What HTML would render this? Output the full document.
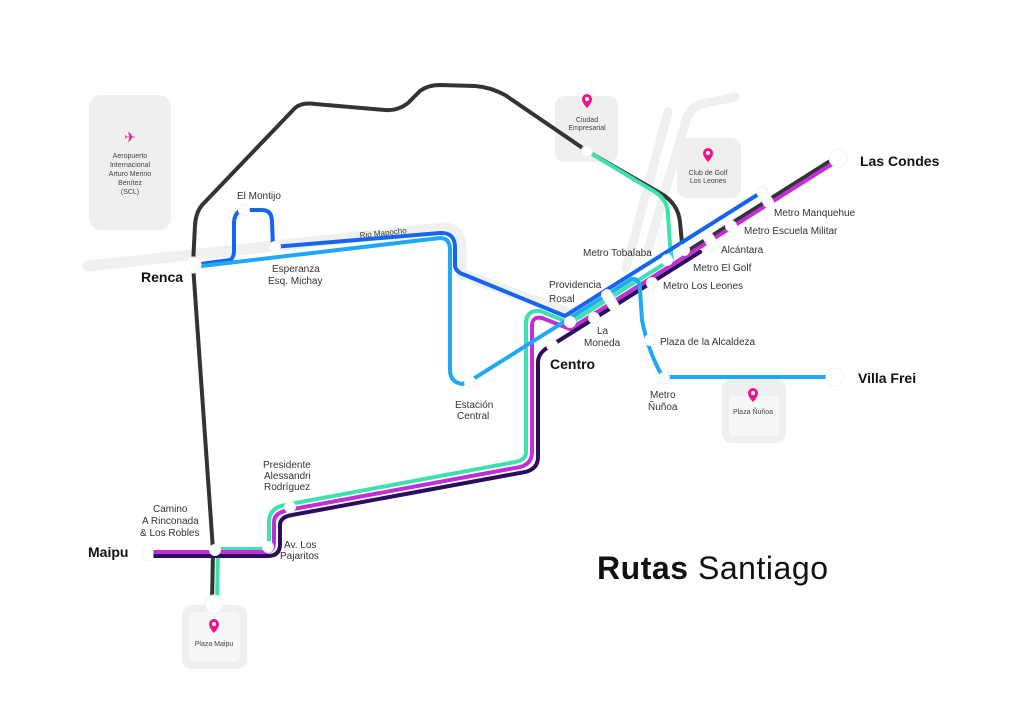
<!DOCTYPE html>
<html><head><meta charset="utf-8"><style>
html,body{margin:0;padding:0;background:#fff;}
svg{display:block;font-family:"Liberation Sans",sans-serif;}
.s{font-size:10px;fill:#333;}
.b{font-size:14px;font-weight:bold;fill:#111;}
.t{font-size:7px;fill:#444;}
</style></head><body>
<svg width="1024" height="722" viewBox="0 0 1024 722" xmlns="http://www.w3.org/2000/svg">
<g fill="none" stroke="#f0f0f0" stroke-linecap="round" stroke-linejoin="round">
<path d="M88,266 L440,228 Q460,226 461,248 L461,274 L565,312" stroke-width="11"/>
<path d="M735,97 L702,104 Q690,108 686,120 L648,250" stroke-width="9"/>
<path d="M668,112 L626,268" stroke-width="9"/>
</g>
<rect x="89" y="95" width="82" height="135" rx="12" fill="#efefef"/>
<rect x="555" y="96" width="63" height="66" rx="10" fill="#efefef"/>
<rect x="677" y="138" width="64" height="60" rx="10" fill="#efefef"/>
<rect x="722" y="379" width="64" height="64" rx="10" fill="#efefef"/>
<rect x="182" y="605" width="65" height="64" rx="10" fill="#efefef"/>
<rect x="189" y="612" width="51" height="50" rx="6" fill="#f7f7f7"/>
<rect x="729" y="396" width="50" height="40" rx="4" fill="#f7f7f7"/>
<g fill="none" stroke-width="4" stroke-linecap="round" stroke-linejoin="round">
<path d="M212,604 L213,550 L193,265 L195,225 Q196,210 205,202 L295,108 Q302,102 315,104 L385,110 Q398,111 408,103 L420,91 Q428,85 440,85 L475,86 Q490,87 505,95 L587,151 L660,193 Q678,203 680,222 L683,254 L838,156" stroke="#333"/>
<path d="M587,151 L655,192 Q668,200 668,215 L670,245 L672,259 L570,323 L540,311 Q527,310 526,322 L526,452 Q526,460 515,462 L285,505 Q270,508 269,520 L269,540 Q268,549 258,549 L218,549 L217,604" stroke="#3fe0b0"/>
<path d="M150,552 L265,552 Q274,552 274,542 L274,522 Q274,513 288,510 L520,467 Q532,464 532,452 L532,326 Q532,316 542,318 L570,329 L832,164" stroke="#c22ed8"/>
<path d="M150,556 L268,556 Q280,556 280,544 L280,525 Q280,517 292,515 L525,472 Q538,469 538,457 L538,362 Q538,352 552,345 L700,252" stroke="#2a0e5c"/>
<path d="M193,265 L230,260 Q234,258 234,250 L234,222 Q235,210 245,210 L262,210 Q272,210 272,222 L273,247 L440,233 Q455,232 455,248 L455,265 Q455,272 465,275 L565,316 L765,190" stroke="#1565f0"/>
<path d="M193,267 L440,238 Q450,238 450,250 L450,370 Q450,382 462,384 L470,381 L632,279 Q640,278 640,290 L642,320 Q648,350 660,372 L665,377 L835,377" stroke="#1ea8f5"/>
</g>
<g fill="#fff" stroke="#f2f2f2" stroke-width="1">
<circle cx="193" cy="265" r="8"/>
<circle cx="244" cy="210" r="5.5"/>
<circle cx="275" cy="247" r="5.5"/>
<circle cx="587" cy="151" r="5.5"/>
<circle cx="838" cy="158" r="9"/>
<circle cx="835" cy="377" r="9"/>
<circle cx="214" cy="604" r="9"/>
<circle cx="215" cy="550" r="5.5"/>
<circle cx="268" cy="547" r="5.5"/>
<circle cx="290" cy="507" r="5.5"/>
<circle cx="470" cy="382" r="5.5"/>
<circle cx="570" cy="322" r="5.5"/>
<circle cx="594" cy="318" r="5.5"/>
<circle cx="552" cy="345" r="5.5"/>
<circle cx="652" cy="283" r="5.5"/>
<circle cx="667" cy="260" r="5.5"/>
<circle cx="684" cy="250" r="5.5"/>
<circle cx="731" cy="226" r="5.5"/>
<circle cx="650" cy="340" r="5.5"/>
<circle cx="664" cy="378" r="5.5"/>
<rect x="143" y="545" width="10" height="16" rx="4"/>
<rect x="-5" y="-11" width="10" height="22" rx="4" transform="translate(610,300) rotate(-32)"/>
<rect x="-5" y="-10" width="10" height="20" rx="4" transform="translate(710,240) rotate(-32)"/>
<rect x="-5" y="-11" width="10" height="22" rx="4" transform="translate(765,197) rotate(-32)"/>
</g>
<g fill="#f0148c">
<path d="M587,94 a5,5 0 0 1 5,5 c0,4 -5,9 -5,9 c0,0 -5,-5 -5,-9 a5,5 0 0 1 5,-5z"/>
<path d="M708,148 a5,5 0 0 1 5,5 c0,4 -5,9 -5,9 c0,0 -5,-5 -5,-9 a5,5 0 0 1 5,-5z"/>
<path d="M753,388 a5,5 0 0 1 5,5 c0,4 -5,9 -5,9 c0,0 -5,-5 -5,-9 a5,5 0 0 1 5,-5z"/>
<path d="M214,619 a5,5 0 0 1 5,5 c0,4 -5,9 -5,9 c0,0 -5,-5 -5,-9 a5,5 0 0 1 5,-5z"/>
</g>
<g fill="#fff"><circle cx="587" cy="99" r="2"/><circle cx="708" cy="153" r="2"/><circle cx="753" cy="393" r="2"/><circle cx="214" cy="624" r="2"/></g>
<text x="130" y="142" font-size="14" fill="#f0148c" text-anchor="middle">✈</text>
<g class="t" text-anchor="middle">
<text x="130" y="158">Aeropuerto</text><text x="130" y="167">Internacional</text><text x="130" y="176">Arturo Merino</text><text x="130" y="185">Benítez</text><text x="130" y="194">(SCL)</text>
<text x="587" y="122">Ciudad</text><text x="587" y="130">Empresarial</text>
<text x="708" y="175">Club de Golf</text><text x="708" y="183">Los Leones</text>
<text x="753" y="414">Plaza Ñuñoa</text>
<text x="214" y="646">Plaza Maipu</text>
</g>
<text x="360" y="238" font-size="8" fill="#333" transform="rotate(-6 360 238)">Rio Mapocho</text>
<g class="s">
<text x="237" y="199">El Montijo</text>
<text x="272" y="272">Esperanza</text><text x="268" y="284">Esq. Michay</text>
<text x="263" y="468">Presidente</text><text x="264" y="479">Alessandri</text><text x="264" y="490">Rodríguez</text>
<text x="153" y="512">Camino</text><text x="142" y="524">A Rinconada</text><text x="140" y="536">&amp; Los Robles</text>
<text x="284" y="548">Av. Los</text><text x="280" y="559">Pajaritos</text>
<text x="455" y="408">Estación</text><text x="457" y="419">Central</text>
<text x="549" y="288">Providencia</text><text x="549" y="302">Rosal</text>
<text x="597" y="334">La</text><text x="584" y="346">Moneda</text>
<text x="583" y="256">Metro Tobalaba</text>
<text x="693" y="271">Metro El Golf</text>
<text x="663" y="289">Metro Los Leones</text>
<text x="721" y="253">Alcántara</text>
<text x="744" y="234">Metro Escuela Militar</text>
<text x="774" y="216">Metro Manquehue</text>
<text x="660" y="345">Plaza de la Alcaldeza</text>
<text x="650" y="398">Metro</text><text x="648" y="410">Ñuñoa</text>
</g>
<g class="b">
<text x="141" y="282">Renca</text>
<text x="88" y="557">Maipu</text>
<text x="550" y="369">Centro</text>
<text x="860" y="166">Las Condes</text>
<text x="858" y="383">Villa Frei</text>
</g>
<text x="597" y="579" font-size="32" fill="#111" textLength="231" lengthAdjust="spacing"><tspan font-weight="bold">Rutas</tspan> Santiago</text>
</svg>
</body></html>
